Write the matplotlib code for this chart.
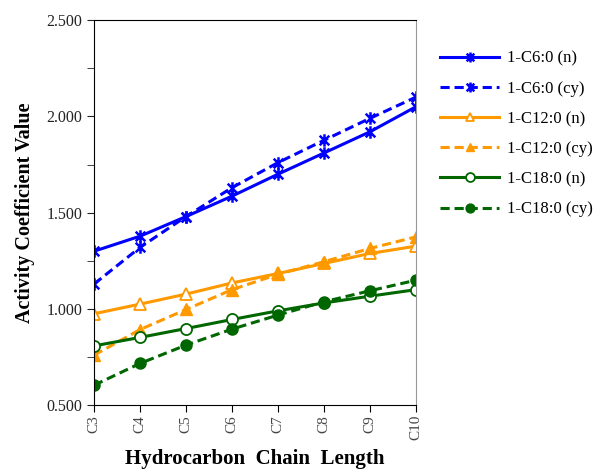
import matplotlib.pyplot as plt
from matplotlib.path import Path
from matplotlib.ticker import MultipleLocator, FormatStrFormatter

plt.rcParams['font.family'] = ['Liberation Serif', 'DejaVu Serif']

chains = ["C3", "C4", "C5", "C6", "C7", "C8", "C9", "C10"]
c6_n = [1.30, 1.378, 1.48, 1.586, 1.70, 1.81, 1.92, 2.05]
c6_cy = [1.13, 1.32, 1.48, 1.63, 1.76, 1.876, 1.99, 2.10]
c12_n = [0.975, 1.025, 1.077, 1.135, 1.184, 1.236, 1.288, 1.326]
c12_cy = [0.76, 0.893, 0.997, 1.10, 1.18, 1.245, 1.314, 1.374]
c18_n = [0.808, 0.852, 0.898, 0.945, 0.99, 1.031, 1.066, 1.10]
c18_cy = [0.604, 0.717, 0.812, 0.895, 0.968, 1.037, 1.094, 1.149]

# excel-like star: an x with a vertical bar through it
star = Path([(-1, -1), (1, 1), (-1, 1), (1, -1), (0, -1.3), (0, 1.3)],
            [Path.MOVETO, Path.LINETO, Path.MOVETO, Path.LINETO, Path.MOVETO, Path.LINETO])

blue = "#0000ff"
orange = "#ff9900"
green = "#006600"
x = range(len(chains))

fig = plt.figure(figsize=(6, 4.7), dpi=100)
ax = fig.add_axes([0.157, 0.138, 0.536, 0.819])

ax.plot(x, c6_n, color=blue, lw=2.2, marker=star, ms=9, mew=1.8, label="1-C6:0 (n)")
ax.plot(x, c6_cy, color=blue, lw=2.2, ls=(0, (3, 1.6)), marker=star, ms=9, mew=1.8, label="1-C6:0 (cy)")
ax.plot(x, c12_n, color=orange, lw=2.2, marker="^", ms=8, mfc="white", mew=1.3, label="1-C12:0 (n)")
ax.plot(x, c12_cy, color=orange, lw=2.2, ls=(0, (3, 1.6)), marker="^", ms=8, label="1-C12:0 (cy)")
ax.plot(x, c18_n, color=green, lw=2.2, marker="o", ms=8, mfc="white", mew=1.3, label="1-C18:0 (n)")
ax.plot(x, c18_cy, color=green, lw=2.2, ls=(0, (3, 1.6)), marker="o", ms=8, label="1-C18:0 (cy)")

ax.set_xlim(0, len(chains) - 1)
ax.set_ylim(0.5, 2.5)
ax.yaxis.set_major_locator(MultipleLocator(0.5))
ax.yaxis.set_minor_locator(MultipleLocator(0.25))
ax.yaxis.set_major_formatter(FormatStrFormatter('%.3f'))
ax.set_xticks(list(x))
ax.set_xticklabels(chains, rotation=90, color="#444444")
ax.tick_params(axis='y', which='both', direction='out', length=5, labelsize=11.5, colors='#222222')
ax.tick_params(axis='x', direction='out', length=5, labelsize=11, pad=2)
ax.spines['right'].set_color('#999999')

ax.set_ylabel("Activity Coefficient Value", fontsize=14.5, fontweight='bold', labelpad=8)
ax.set_xlabel("Hydrocarbon  Chain  Length", fontsize=15, fontweight='bold', labelpad=6)

ax.legend(loc='upper left', bbox_to_anchor=(1.03, 0.96), frameon=False, fontsize=12,
          handlelength=3.5, labelspacing=0.85, markerscale=0.8, handletextpad=0.5)

plt.savefig("out.png", dpi=100)
